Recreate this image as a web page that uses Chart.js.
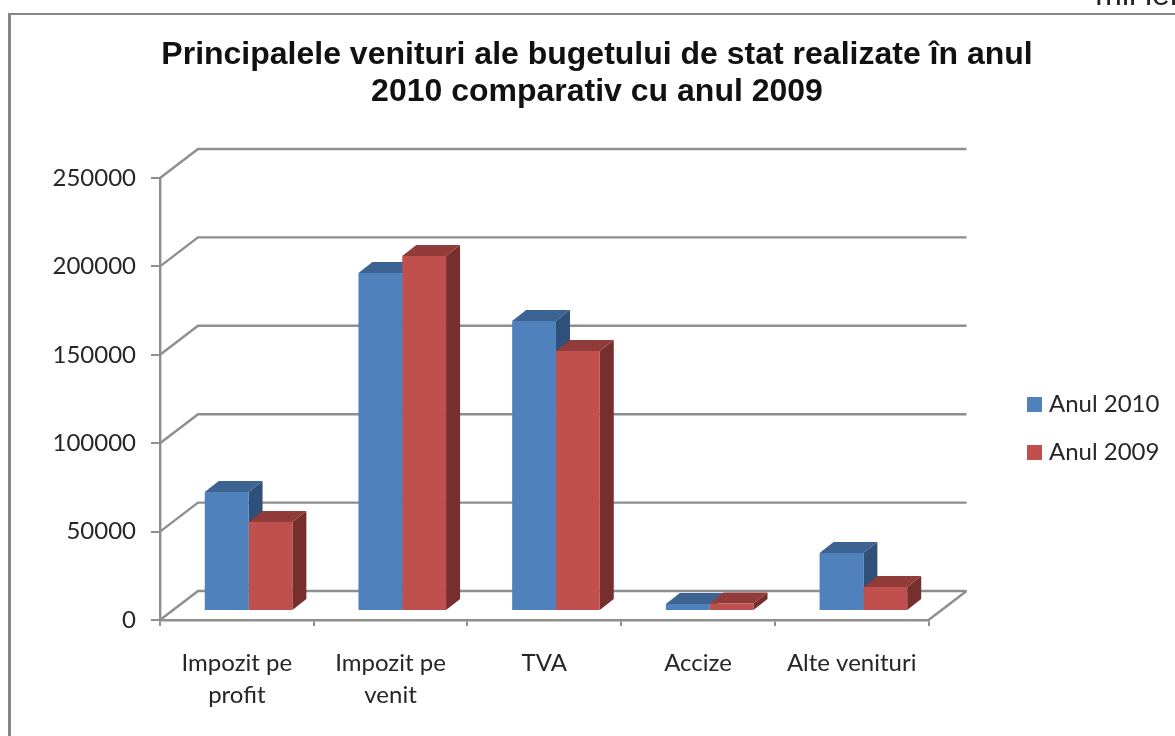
<!DOCTYPE html>
<html><head><meta charset="utf-8">
<script src="https://cdn.jsdelivr.net/npm/chart.js@4/dist/chart.umd.min.js"></script>
<style>
html,body{margin:0;padding:0;background:#fff;width:1175px;height:736px;overflow:hidden}
#frame{position:absolute;left:8px;top:13px;right:0;bottom:0;border-left:3px solid #868686;border-top:2px solid #868686;filter:blur(.4px)}
#unit{position:absolute;right:-2px;top:-24px;font:32px "Liberation Sans",sans-serif;color:#222;filter:blur(.4px)}
#c{position:absolute;left:0;top:0;filter:blur(.5px)}
</style></head><body>
<div id="unit">mil lei</div><div id="frame"></div>
<canvas id="c" width="1175" height="736"></canvas>
<script>
const categories = [["Impozit pe","profit"],["Impozit pe","venit"],"TVA","Accize","Alte venituri"];
const series2010 = [67300,191200,164000,4000,32800];
const series2009 = [50300,200800,147000,4200,13600];
const seriesNames = ["Anul 2010","Anul 2009"];
const titleLines = ["Principalele venituri ale bugetului de stat realizate în anul","2010 comparativ cu anul 2009"];
const TEXT = "#262626", GRID = "#8e8e8e";
const BLUE = "#4f81bd", RED = "#c0504d";
const FACES = [{top:"#3c6391",side:"#2f5078"},{top:"#913c3a",side:"#772f2d"}];
const WALL = {dx:38,dy:-29}, BAR = {shiftX:11.7,shiftY:-9,depthX:14,depthY:-11};

function poly(ctx,pts,fill){ctx.beginPath();pts.forEach((p,i)=>i?ctx.lineTo(p[0],p[1]):ctx.moveTo(p[0],p[1]));ctx.closePath();ctx.fillStyle=fill;ctx.fill();}
function swatch(color){const c=document.createElement("canvas");c.width=15;c.height=15;const x=c.getContext("2d");x.fillStyle=color;x.fillRect(0,0,15,15);return c;}

const threeD = {
  id:"threeD",
  afterLayout(chart){
    const l=chart.legend;
    l.left=1008;l.right=1175;l.top=368;l.bottom=736;
    const t=chart.titleBlock;
    t.left=20;t.right=1174;
  },
  beforeDatasetsDraw(chart){
    const {ctx,chartArea:a,scales:{y}}=chart;
    ctx.save();
    ctx.strokeStyle=GRID;ctx.lineWidth=2.4;
    y.ticks.forEach(t=>{
      const py=y.getPixelForValue(t.value);
      ctx.beginPath();ctx.moveTo(a.left,py);ctx.lineTo(a.left+WALL.dx,py+WALL.dy);ctx.lineTo(a.right+WALL.dx,py+WALL.dy);ctx.stroke();
    });
    const p0=y.getPixelForValue(0);
    ctx.beginPath();ctx.moveTo(a.right,p0);ctx.lineTo(a.right+WALL.dx,p0+WALL.dy);ctx.stroke();
    categories.forEach((_,i)=>{
      [0,1].forEach(d=>{
        const b=chart.getDatasetMeta(d).data[i];
        const L=b.x-b.width/2+BAR.shiftX,R=b.x+b.width/2+BAR.shiftX,T=b.y+BAR.shiftY,B=b.base+BAR.shiftY;
        poly(ctx,[[R,T],[R+BAR.depthX,T+BAR.depthY],[R+BAR.depthX,B+BAR.depthY],[R,B]],FACES[d].side);
        poly(ctx,[[L,T],[L+BAR.depthX,T+BAR.depthY],[R+BAR.depthX,T+BAR.depthY],[R,T]],FACES[d].top);
      });
    });
    ctx.restore();
    ctx.save();ctx.translate(BAR.shiftX,BAR.shiftY);
  },
  afterDatasetsDraw(chart){chart.ctx.restore();}
};

new Chart(document.getElementById("c"),{
  type:"bar",
  plugins:[threeD],
  data:{labels:categories,datasets:[
    {label:seriesNames[0],data:series2010,backgroundColor:BLUE,pointStyle:swatch(BLUE),borderWidth:0,categoryPercentage:0.57,barPercentage:1},
    {label:seriesNames[1],data:series2009,backgroundColor:RED,pointStyle:swatch(RED),borderWidth:0,categoryPercentage:0.57,barPercentage:1}
  ]},
  options:{
    responsive:false,animation:false,devicePixelRatio:1,
    layout:{padding:{left:0,right:85,top:0,bottom:0}},
    plugins:{
      tooltip:{enabled:false},
      title:{display:true,text:titleLines,color:"#111",align:"center",
        font:{family:"Liberation Sans",size:32,weight:"bold",lineHeight:1.156},
        padding:{top:37,bottom:67}},
      legend:{display:true,position:"right",align:"start",
        labels:{usePointStyle:true,pointStyleWidth:5,boxHeight:15,padding:24,color:TEXT,font:{family:"Lato",size:24}}}
    },
    scales:{
      x:{offset:true,
        afterFit(s){s.height=116;},
        grid:{drawOnChartArea:false,drawTicks:true,tickLength:6,color:GRID,lineWidth:2},
        border:{display:true,color:GRID,width:2.4},
        ticks:{color:TEXT,maxRotation:0,autoSkip:false,padding:21,font:{family:"Lato",size:24,lineHeight:1.33}}},
      y:{min:0,max:250000,
        afterFit(s){s.width=160;},
        grid:{drawOnChartArea:false,drawTicks:true,tickLength:9,color:GRID,lineWidth:2},
        border:{display:true,color:GRID,width:2.4},
        ticks:{stepSize:50000,color:TEXT,padding:15,font:{family:"Lato",size:24},callback:v=>String(v)}}
    }
  }
});
</script></body></html>
